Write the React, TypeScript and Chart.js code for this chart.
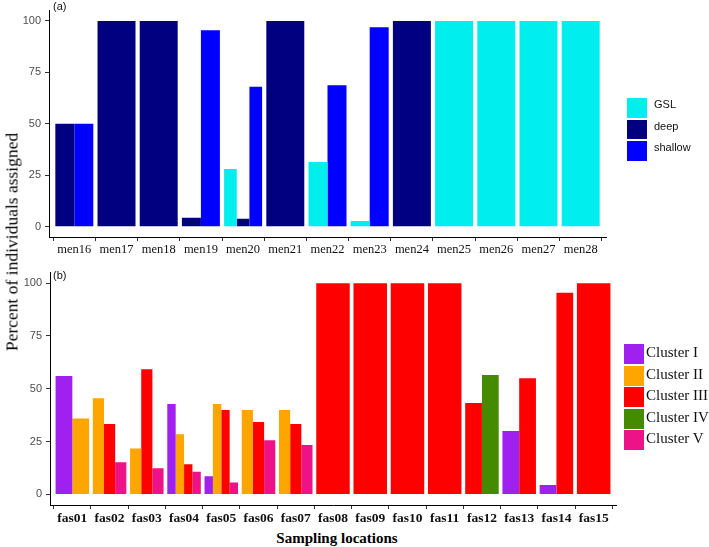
import React, { useEffect, useRef } from 'react';
import { Chart, registerables } from 'chart.js';

Chart.register(...registerables);

// ---------- Data ----------
const menLabels = ['men16', 'men17', 'men18', 'men19', 'men20', 'men21', 'men22', 'men23', 'men24', 'men25', 'men26', 'men27', 'men28'];
const gslValues = [null, null, null, null, 28, null, 31.4, 2.8, null, 100, 100, 100, 100];
const deepValues = [50, 100, 100, 4.4, 3.9, 100, null, null, 100, null, null, null, null];
const shallowValues = [50, null, null, 95.5, 68, null, 68.7, 96.9, null, null, null, null, null];

const fasLabels = ['fas01', 'fas02', 'fas03', 'fas04', 'fas05', 'fas06', 'fas07', 'fas08', 'fas09', 'fas10', 'fas11', 'fas12', 'fas13', 'fas14', 'fas15'];
const cluster1 = [56.1, null, null, 42.8, 8.6, null, null, null, null, null, null, null, 30, 4.5, null];
const cluster2 = [36, 45.5, 21.8, 28.5, 42.8, 40, 40, null, null, null, null, null, null, null, null];
const cluster3 = [null, 33.3, 59.3, 14.3, 40, 34.3, 33.3, 100, 100, 100, 100, 43.3, 55, 95.5, 100];
const cluster4 = [null, null, null, null, null, null, null, null, null, null, null, 56.5, null, null, null];
const cluster5 = [null, 15.2, 12.4, 10.7, 5.7, 25.7, 23.4, null, null, null, null, null, null, null, null];

const yTicks = [0, 25, 50, 75, 100];

type Group = { label: string; color: string; data: (number | null)[] };

const menGroups: Group[] = [
  { label: 'GSL', color: '#00EEEE', data: gslValues },
  { label: 'deep', color: '#000080', data: deepValues },
  { label: 'shallow', color: '#0000FF', data: shallowValues },
];

const fasGroups: Group[] = [
  { label: 'Cluster I', color: '#A020F0', data: cluster1 },
  { label: 'Cluster II', color: '#FFA500', data: cluster2 },
  { label: 'Cluster III', color: '#FF0000', data: cluster3 },
  { label: 'Cluster IV', color: '#458B00', data: cluster4 },
  { label: 'Cluster V', color: '#EE1289', data: cluster5 },
];

const SANS = '"Liberation Sans", Arial, sans-serif';
const SERIF = '"Liberation Serif", "Times New Roman", serif';

type PanelOpts = {
  labels: string[];
  groups: Group[];
  width: number;
  height: number;
  padTop: number;
  padRight: number;
  yAxisWidth: number;
  xAxisHeight: number;
  xFont: { family: string; size: number; weight?: string };
  xPad: number;
};

function Panel(props: PanelOpts & { style: React.CSSProperties }) {
  const ref = useRef<HTMLCanvasElement | null>(null);
  useEffect(() => {
    if (!ref.current) return;
    const { labels, groups } = props;
    const chart = new Chart(ref.current, {
      type: 'bar',
      data: {
        datasets: groups.map((g) => ({
          label: g.label,
          data: g.data.map((v, i) => ({ x: i, y: v })),
          backgroundColor: g.color,
          borderWidth: 0,
          skipNull: true,
          categoryPercentage: 0.9,
          barPercentage: 1.0,
        })),
      } as any,
      options: {
        animation: false,
        responsive: false,
        maintainAspectRatio: false,
        layout: { padding: { left: 0, top: props.padTop, right: props.padRight, bottom: 0 } },
        plugins: { legend: { display: false }, tooltip: { enabled: false }, title: { display: false } },
        scales: {
          x: {
            type: 'linear',
            min: -0.6,
            max: labels.length - 0.4,
            offset: false,
            afterBuildTicks: (s: any) => {
              s.ticks = labels.map((_, i) => ({ value: i }));
            },
            afterFit: (s: any) => {
              s.height = props.xAxisHeight;
            },
            ticks: {
              autoSkip: false,
              maxRotation: 0,
              padding: props.xPad,
              color: '#111111',
              font: props.xFont as any,
              callback: (v: any) => labels[Math.round(Number(v))],
            },
            grid: { display: true, drawOnChartArea: false, drawTicks: true, tickLength: 4, color: '#333333', lineWidth: 1 },
            border: { display: true, color: '#000000', width: 1 },
          },
          y: {
            type: 'linear',
            min: -5,
            max: 105,
            afterBuildTicks: (s: any) => {
              s.ticks = yTicks.map((v) => ({ value: v }));
            },
            afterFit: (s: any) => {
              s.width = props.yAxisWidth;
            },
            ticks: {
              padding: 4,
              color: '#4D4D4D',
              font: { family: SANS, size: 11 },
            },
            grid: { display: true, drawOnChartArea: false, drawTicks: true, tickLength: 4, color: '#333333', lineWidth: 1 },
            border: { display: true, color: '#000000', width: 1 },
          },
        },
      } as any,
    });
    return () => chart.destroy();
  }, []);
  return (
    <canvas
      ref={ref}
      width={props.width}
      height={props.height}
      style={{ position: 'absolute', width: props.width, height: props.height, ...props.style }}
    />
  );
}

function Legend({ groups, left, top, font, boxW, boxH, step, textLeft }: {
  groups: Group[]; left: number; top: number; font: string; boxW: number; boxH: number; step: number; textLeft: number;
}) {
  return (
    <>
      {groups.map((g, i) => (
        <React.Fragment key={g.label}>
          <div style={{ position: 'absolute', left, top: top + i * step, width: boxW, height: boxH, background: g.color }} />
          <div style={{ position: 'absolute', left: textLeft, top: top + i * step, height: boxH, lineHeight: boxH + 'px', font, color: '#111', whiteSpace: 'nowrap' }}>
            {g.label}
          </div>
        </React.Fragment>
      ))}
    </>
  );
}

export default function App() {
  return (
    <div style={{ position: 'absolute', left: 0, top: 0, width: 709, height: 547, background: '#fff', overflow: 'hidden' }}>
      <Panel
        labels={menLabels}
        groups={menGroups}
        width={709}
        height={262}
        padTop={2}
        padRight={103}
        yAxisWidth={49}
        xAxisHeight={25}
        xFont={{ family: SERIF, size: 12.5 }}
        xPad={1}
        style={{ left: 0, top: 0 }}
      />
      <Panel
        labels={fasLabels}
        groups={fasGroups}
        width={709}
        height={265}
        padTop={7}
        padRight={93}
        yAxisWidth={50}
        xAxisHeight={22}
        xFont={{ family: SERIF, size: 13.5, weight: 'bold' }}
        xPad={1}
        style={{ left: 0, top: 262 }}
      />
      <div style={{ position: 'absolute', left: 53, top: 0, font: `11px ${SANS}`, color: '#111' }}>(a)</div>
      <div style={{ position: 'absolute', left: 53, top: 269, font: `11px ${SANS}`, color: '#111' }}>(b)</div>
      <Legend groups={menGroups} left={627} top={98} boxW={20} boxH={19.5} step={21.5} textLeft={654} font={`11px ${SANS}`} />
      <Legend groups={fasGroups} left={624} top={344} boxW={19.5} boxH={20} step={21.6} textLeft={646} font={`15px ${SERIF}`} />
      <div
        style={{
          position: 'absolute', left: 12, top: 242, transform: 'translate(-50%, -50%) rotate(-90deg)',
          font: `17.5px ${SERIF}`, color: '#000', whiteSpace: 'nowrap',
        }}
      >
        Percent of individuals assigned
      </div>
      <div
        style={{
          position: 'absolute', left: 337, top: 538, transform: 'translate(-50%, -50%)',
          font: `bold 15px ${SERIF}`, color: '#000', whiteSpace: 'nowrap',
        }}
      >
        Sampling locations
      </div>
    </div>
  );
}
